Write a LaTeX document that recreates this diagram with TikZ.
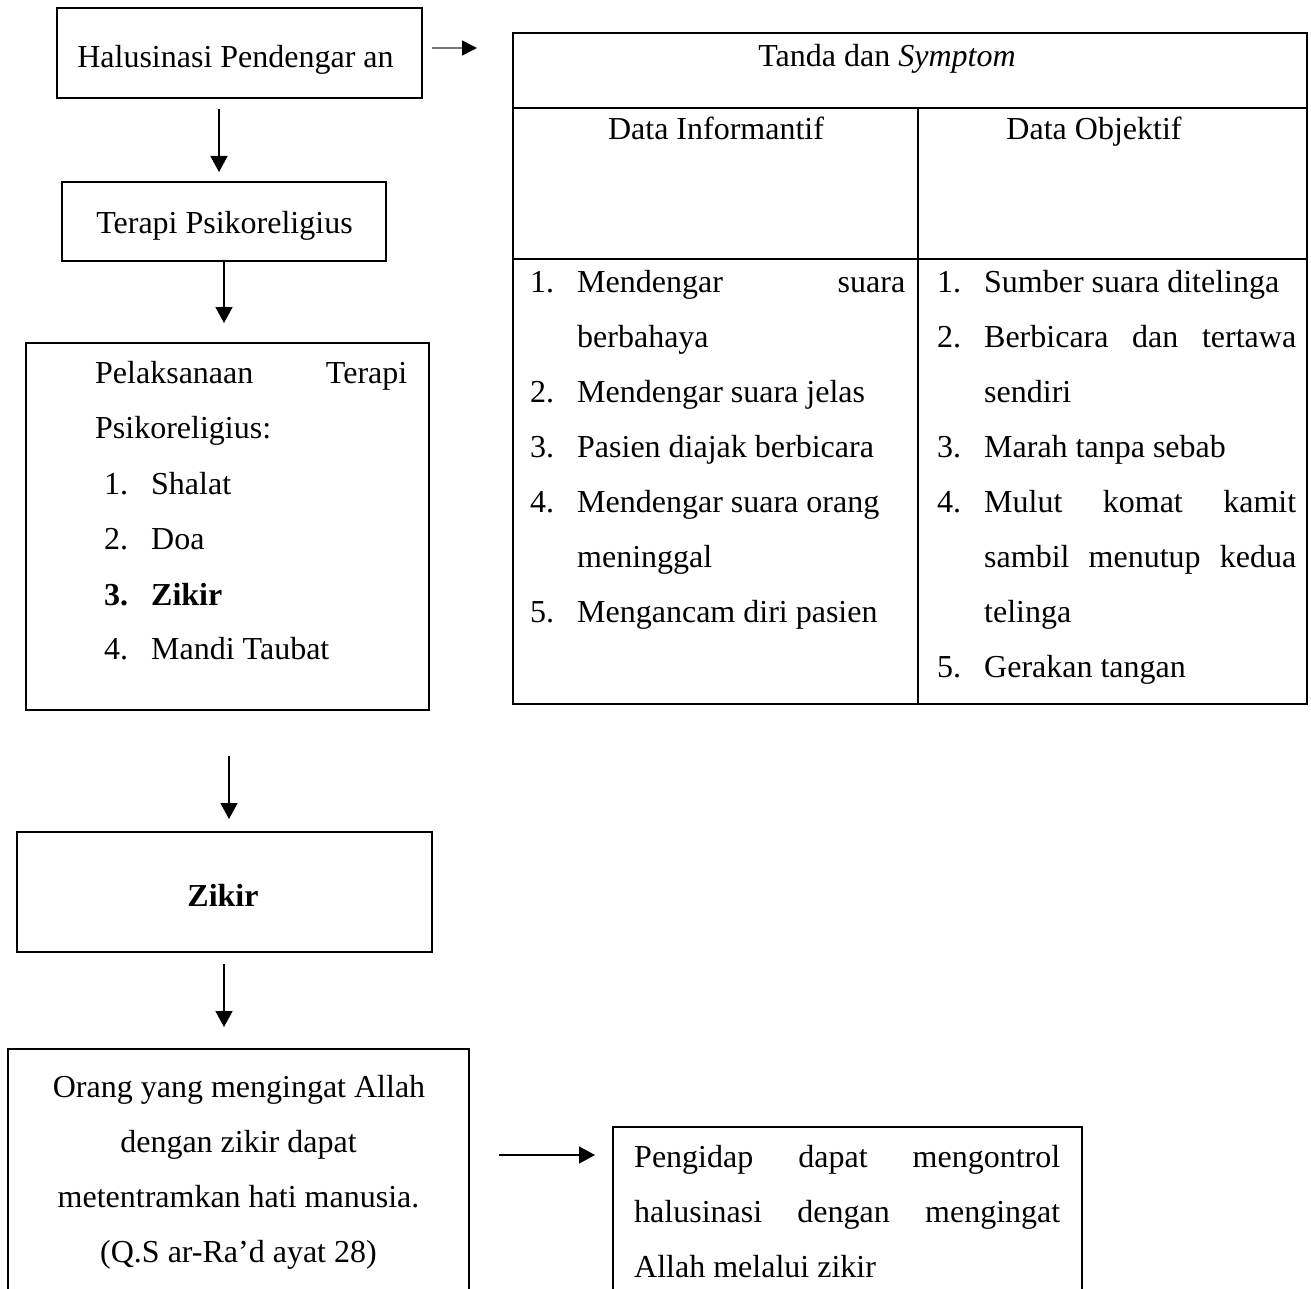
\documentclass[tikz,border=0pt]{standalone}
\usepackage{fontspec}
\setmainfont{Liberation Serif}
\usetikzlibrary{arrows.meta,fit}
\newcommand\bodyfont{\fontsize{32}{38}\selectfont}
% numbered list line: number in a fixed-width slot, then the entry
\newcommand\itm[2]{\makebox[47pt][l]{#1}#2}
% line stretched to a given width (justified)
\newcommand\jst[2]{\makebox[#1][s]{#2}}

\begin{document}
\begin{tikzpicture}[x=1pt,y=-1pt,
  box/.style={draw, line width=2pt, inner sep=0pt, outer sep=0pt, fit={#1}},
  rule/.style={line width=2pt},
  txt/.style={inner sep=0pt, font=\bodyfont, anchor=base west},
  ctr/.style={inner sep=0pt, font=\bodyfont, anchor=base},
  arr/.style={line width=1.3pt, -{Triangle[length=16pt,width=17pt]}}]

\useasboundingbox (0,0) rectangle (1311,1289);
\clip (0,0) rectangle (1311,1289);

% ---- flow boxes ----
\node[box={(57,8)(422,98)}] (b1) {};
\node[box={(62,182)(386,261)}] (b2) {};
\node[box={(26,343)(429,710)}] (b3) {};
\node[box={(17,832)(432,952)}] (b4) {};
\node[box={(8,1049)(469,1320)}] (b5) {};
\node[box={(613,1127)(1082,1320)}] (b6) {};

\node[ctr] (t1) at (235.5,68) {Halusinasi Pendengar an};
\node[ctr] (t2) at (224.5,234) {Terapi Psikoreligius};

\node[txt] (p1) at (95,383) {\jst{312pt}{Pelaksanaan Terapi}};
\node[txt] (p2) at (95,438) {Psikoreligius:};
\node[txt] (p3) at (104,494) {\itm{1.}{Shalat}};
\node[txt] (p4) at (104,549) {\itm{2.}{Doa}};
\node[txt] (p5) at (104,605) {\bfseries\itm{3.}{Zikir}};
\node[txt] (p6) at (104,659) {\itm{4.}{Mandi Taubat}};

\node[ctr] (t4) at (223,906) {\bfseries Zikir};

\node[ctr] (q1) at (239,1097) {Orang yang mengingat Allah};
\node[ctr] (q2) at (238.5,1152) {dengan zikir dapat};
\node[ctr] (q3) at (238.5,1207) {metentramkan hati manusia.};
\node[ctr] (q4) at (238.5,1262) {(Q.S ar-Ra’d ayat 28)};

\node[txt] (r1) at (634,1167) {\jst{426pt}{Pengidap dapat mengontrol}};
\node[txt] (r2) at (634,1222) {\jst{426pt}{halusinasi dengan mengingat}};
\node[txt] (r3) at (634,1277) {Allah melalui zikir};

% ---- table of signs and symptoms ----
\node[box={(513,33)(1307,704)}] (tbl) {};
\coordinate (h1) at (0,108);
\coordinate (h2) at (0,259);
\coordinate (vc) at (918,0);
\draw[rule] (tbl.west |- h1) -- (tbl.east |- h1);
\draw[rule] (tbl.west |- h2) -- (tbl.east |- h2);
\draw[rule] (vc |- h1) -- (vc |- tbl.south);

\node[ctr] (th) at (887,67) {Tanda dan \textit{Symptom}};
\node[ctr] (ti) at (716,140) {Data Informantif};
\node[ctr] (to) at (1094,140) {Data Objektif};

\node[txt] (la) at (530,292) {\itm{1.}{\jst{328pt}{Mendengar suara}}};
\node[txt] (lb) at (577,347) {berbahaya};
\node[txt] (lc) at (530,402) {\itm{2.}{Mendengar suara jelas}};
\node[txt] (ld) at (530,457) {\itm{3.}{Pasien diajak berbicara}};
\node[txt] (le) at (530,512) {\itm{4.}{Mendengar suara orang}};
\node[txt] (lf) at (577,567) {meninggal};
\node[txt] (lg) at (530,622) {\itm{5.}{Mengancam diri pasien}};

\node[txt] (oa) at (937,292) {\itm{1.}{Sumber suara ditelinga}};
\node[txt] (ob) at (937,347) {\itm{2.}{\jst{312pt}{Berbicara dan tertawa}}};
\node[txt] (oc) at (984,402) {sendiri};
\node[txt] (od) at (937,457) {\itm{3.}{Marah tanpa sebab}};
\node[txt] (oe) at (937,512) {\itm{4.}{\jst{312pt}{Mulut komat kamit}}};
\node[txt] (of) at (984,567) {\jst{312pt}{sambil menutup kedua}};
\node[txt] (og) at (984,622) {telinga};
\node[txt] (oh) at (937,677) {\itm{5.}{Gerakan tangan}};

% ---- connectors ----
\coordinate (x1) at (219,0);
\coordinate (x2) at (224,0);
\coordinate (x3) at (229,0);
\coordinate (ytop) at (0,48);
\coordinate (ybot) at (0,1155);

\draw[line width=1.5pt, draw=black!55,
      -{Triangle[length=15pt,width=15pt,color=black]},
      shorten <=10pt, shorten >=36pt]
  (b1.east |- ytop) -- (tbl.west |- ytop);
\draw[arr, shorten <=11pt, shorten >=10pt] (b1.south -| x1) -- (b2.north -| x1);
\draw[arr, shorten >=20pt] (b2.south -| x2) -- (b3.north -| x2);
\draw[arr, shorten <=46pt, shorten >=13pt] (b3.south -| x3) -- (b4.north -| x3);
\draw[arr, shorten <=12pt, shorten >=22pt] (b4.south -| x2) -- (b5.north -| x2);
\draw[arr, shorten <=30pt, shorten >=18pt] (b5.east |- ybot) -- (b6.west |- ybot);
\end{tikzpicture}
\end{document}
